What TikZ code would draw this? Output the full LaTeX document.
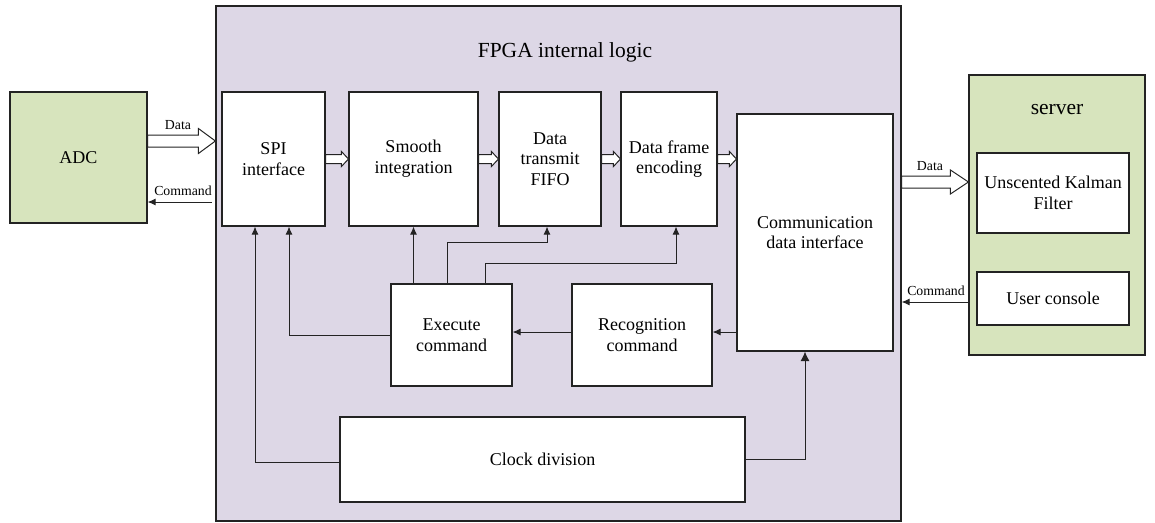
\documentclass[tikz,border=0pt]{standalone}
\usepackage{fontspec}
\setmainfont{Liberation Serif}
\usetikzlibrary{arrows.meta,calc}
\definecolor{fpgafill}{RGB}{221,215,230}
\definecolor{srvfill}{RGB}{215,228,189}
\definecolor{edge}{RGB}{35,35,35}
\newcommand\mainsz{\fontsize{18}{20.7}\selectfont}
\newcommand\titlesz{\fontsize{21.5}{24}\selectfont}
\newcommand\smallsz{\fontsize{13.8}{16}\selectfont}
\newcommand\harrow[5]{\draw[hollow] let \p1=#1, \p2=#2 in
  (\x1,\y1+#3) -- (\x2-#5,\y1+#3) -- (\x2-#5,\y1+#4) -- (\x2,\y1) --
  (\x2-#5,\y1-#4) -- (\x2-#5,\y1-#3) -- (\x1,\y1-#3) -- cycle;}
\tikzset{
  blk/.style={draw=edge,line width=1.1pt,fill=white,inner sep=0pt,align=center,font=\mainsz},
  region/.style={draw=edge,line width=1.2pt,inner sep=0pt},
  hollow/.style={draw=edge,line width=1pt,fill=white,line join=miter},
  arr/.style={draw=edge,line width=1pt,-{Latex[length=8pt,width=7pt]}},
  bigarr/.style={draw=edge,line width=1pt,-{Latex[length=9.5pt,width=9pt]}},
  lbl/.style={font=\smallsz,inner sep=0pt}
}
\begin{document}
\begin{tikzpicture}[x=1pt,y=-1pt]
\useasboundingbox (0,0) rectangle (1155,522);
% regions
\node[region,fill=fpgafill,minimum width=685pt,minimum height=515pt] (FPGA) at (558.5,263.5) {};
\node[font=\titlesz,inner sep=0pt] (title) at (565,52) {FPGA internal logic};
\node[region,fill=srvfill,minimum width=176pt,minimum height=280pt] (Server) at (1057,215) {};
\node[font=\titlesz,inner sep=0pt] (srvtitle) at (1057,110) {server};
\node[blk,fill=srvfill,minimum width=137pt,minimum height=131pt] (ADC) at (78.5,157.5) {ADC};
% blocks
\node[blk,minimum width=103pt,minimum height=134pt] (SPI) at (273.5,159) {SPI\\interface};
\node[blk,minimum width=129pt,minimum height=134pt] (Smooth) at (413.5,159) {Smooth\\integration};
\node[blk,minimum width=102pt,minimum height=134pt] (FIFO) at (550,159) {Data\\transmit\\FIFO};
\node[blk,minimum width=96pt,minimum height=134pt] (Frame) at (669,159) {Data frame\\encoding};
\node[blk,minimum width=156pt,minimum height=237pt] (Comm) at (815,232.5) {Communication\\data interface};
\node[blk,minimum width=121pt,minimum height=102pt] (Exec) at (451.5,335) {Execute\\command};
\node[blk,minimum width=140pt,minimum height=102pt] (Recog) at (642,335) {Recognition\\command};
\node[blk,minimum width=405pt,minimum height=85pt] (Clock) at (542.5,459.5) {Clock division};
\node[blk,minimum width=152pt,minimum height=80pt] (UKF) at (1053,193) {Unscented Kalman\\Filter};
\node[blk,minimum width=152pt,minimum height=53pt] (User) at (1053,298.5) {User console};
% helper coordinates
\coordinate (adcd) at (0,141);
\coordinate (adcc) at (212,202);
\coordinate (srvd) at (0,182);
\coordinate (srvc) at (0,302);
\coordinate (k1) at (547,242);
\coordinate (k2) at (676,263);
\coordinate (r3) at ([yshift=3pt]Recog.east);
\coordinate (e3) at ([yshift=3pt]Exec.east);
% hollow data arrows
\harrow{(ADC.east |- adcd)}{(FPGA.west |- adcd)}{6pt}{12.5pt}{17pt}
\harrow{(SPI.east)}{(Smooth.west)}{4.5pt}{7.5pt}{7pt}
\harrow{(Smooth.east)}{(FIFO.west)}{4.5pt}{7.5pt}{7pt}
\harrow{(FIFO.east)}{(Frame.west)}{4.5pt}{7.5pt}{7pt}
\harrow{(Frame.east)}{(Comm.west |- Frame.east)}{4.5pt}{7.5pt}{7pt}
\harrow{(FPGA.east |- srvd)}{(Server.west |- srvd)}{6pt}{12pt}{18pt}
% command arrows
\draw[arr] (adcc) -- (ADC.east |- adcc);
\draw[arr] (Server.west |- srvc) -- (FPGA.east |- srvc);
\node[lbl] (l1) at (178,125) {Data};
\node[lbl] (l2) at (183,191) {Command};
\node[lbl] (l3) at (930,166) {Data};
\node[lbl] (l4) at (936,291) {Command};
% internal connectors
\draw[arr] ([yshift=-3pt]Clock.west) -| ([xshift=-18.5pt]SPI.south);
\draw[arr] (Exec.west) -| ([xshift=15.5pt]SPI.south);
\draw[arr] (Smooth.south |- Exec.north) -- (Smooth.south);
\draw[arr] ([xshift=-4.5pt]Exec.north) |- (k1) -- (k1 |- FIFO.south);
\draw[arr] ([xshift=33.5pt]Exec.north) |- (k2) -- (k2 |- Frame.south);
\draw[arr] (r3 -| Recog.west) -- (e3);
\draw[arr] (r3 -| Comm.west) -- (r3);
\draw[bigarr] (Clock.east) -| ([xshift=-10pt]Comm.south);
\end{tikzpicture}
\end{document}
